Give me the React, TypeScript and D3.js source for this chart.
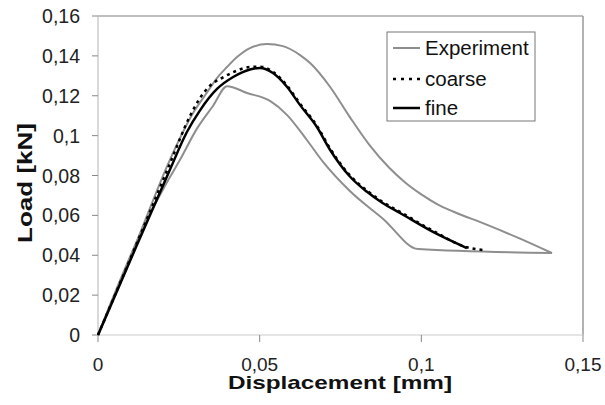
import React from "react";
import * as d3 from "d3";

const xTicks = [0, 0.05, 0.1, 0.15];
const xTickLabels = ["0", "0,05", "0,1", "0,15"];
const yTicks = [0, 0.02, 0.04, 0.06, 0.08, 0.1, 0.12, 0.14, 0.16];
const yTickLabels = ["0", "0,02", "0,04", "0,06", "0,08", "0,1", "0,12", "0,14", "0,16"];

const expUpperX = [0, 0.012, 0.022, 0.0294, 0.0336, 0.0368, 0.0399, 0.043, 0.047, 0.0523, 0.0572, 0.0625, 0.0656, 0.0718, 0.0779, 0.0841, 0.09, 0.095, 0.1, 0.105, 0.11, 0.12, 0.13, 0.1404];
const expUpperY = [0, 0.047, 0.087, 0.1113, 0.1214, 0.1289, 0.1344, 0.1394, 0.1439, 0.1459, 0.1449, 0.1404, 0.1364, 0.1244, 0.1093, 0.095, 0.084, 0.0765, 0.0705, 0.0655, 0.0618, 0.0555, 0.0487, 0.0411];

const expLowerX = [0, 0.0152, 0.0201, 0.0254, 0.0306, 0.0356, 0.0399, 0.0461, 0.0532, 0.0585, 0.0646, 0.0696, 0.0779, 0.0882, 0.099, 0.1404];
const expLowerY = [0, 0.058, 0.073, 0.088, 0.1035, 0.115, 0.1248, 0.1214, 0.1174, 0.1103, 0.0978, 0.0868, 0.0722, 0.0582, 0.0431, 0.0411];

const fineX = [0, 0.012, 0.022, 0.0275, 0.0316, 0.0368, 0.0418, 0.047, 0.0501, 0.0541, 0.0585, 0.0625, 0.0677, 0.0718, 0.0779, 0.0832, 0.088, 0.0934, 0.1036, 0.1141];
const fineY = [0, 0.045, 0.082, 0.1018, 0.1128, 0.1234, 0.1294, 0.1332, 0.1339, 0.1314, 0.1244, 0.1153, 0.1043, 0.0928, 0.0795, 0.0718, 0.0662, 0.0612, 0.0517, 0.0436];

const coarseX = [0, 0.012, 0.022, 0.0285, 0.0316, 0.0346, 0.0384, 0.0418, 0.047, 0.0501, 0.0541, 0.0585, 0.0625, 0.0677, 0.0718, 0.0779, 0.0832, 0.088, 0.0934, 0.1036, 0.1141, 0.1194];
const coarseY = [0, 0.046, 0.085, 0.11, 0.119, 0.125, 0.129, 0.1318, 0.1344, 0.1346, 0.132, 0.125, 0.116, 0.105, 0.0935, 0.0801, 0.0724, 0.0668, 0.0618, 0.0523, 0.044, 0.0426];

const legendLabels = ["Experiment", "coarse", "fine"];

const FONT = "'Liberation Sans', Arial, Helvetica, sans-serif";

export default function App() {
  const x = d3.scaleLinear().domain([0, 0.15]).range([98, 583]);
  const y = d3.scaleLinear().domain([0, 0.16]).range([335, 16]);
  const line = d3
    .line<[number, number]>()
    .x((d) => x(d[0]))
    .y((d) => y(d[1]))
    .curve(d3.curveMonotoneX);
  const zip = (a: number[], b: number[]) => a.map((v, i) => [v, b[i]] as [number, number]);

  const gray = "#8e8e8e";

  return (
    <svg
      width={605}
      height={405}
      style={{ position: "absolute", left: 0, top: 0, background: "#fff" }}
      fontFamily={FONT}
    >
      <rect x={0} y={0} width={605} height={405} fill="#fff" />
      {/* plot frame */}
      <line x1={98} x2={583} y1={16} y2={16} stroke="#aaa" strokeWidth={1.5} />
      <line x1={583} x2={583} y1={16} y2={335} stroke="#999" strokeWidth={1.5} />
      <line x1={98} x2={583} y1={335} y2={335} stroke="#ddd" strokeWidth={1.5} />
      <line x1={98} x2={98} y1={16} y2={335} stroke="#ccc" strokeWidth={1.5} />
      {/* y ticks */}
      {yTicks.map((t, i) => (
        <g key={"y" + i}>
          <line x1={92} x2={98} y1={y(t)} y2={y(t)} stroke="#888" strokeWidth={1} />
          <text x={80} y={y(t)} dy="0.36em" textAnchor="end" fontSize={19.5} fill="#222">
            {yTickLabels[i]}
          </text>
        </g>
      ))}
      {/* x ticks */}
      {xTicks.map((t, i) => (
        <g key={"x" + i}>
          <line x1={x(t)} x2={x(t)} y1={335} y2={342} stroke="#888" strokeWidth={1} />
          <text x={x(t)} y={371} textAnchor="middle" fontSize={19} fill="#222">
            {xTickLabels[i]}
          </text>
        </g>
      ))}
      {/* titles */}
      <text
        x={340}
        y={389}
        textAnchor="middle"
        fontSize={19}
        fontWeight="bold"
        fill="#111"
        textLength={224}
        lengthAdjust="spacingAndGlyphs"
      >
        Displacement [mm]
      </text>
      <text
        transform="translate(32,183) rotate(-90)"
        textAnchor="middle"
        fontSize={20}
        fontWeight="bold"
        fill="#111"
        textLength={120}
        lengthAdjust="spacingAndGlyphs"
      >
        Load [kN]
      </text>
      {/* series */}
      <path d={line(zip(expUpperX, expUpperY)) || ""} fill="none" stroke={gray} strokeWidth={2} />
      <path d={line(zip(expLowerX, expLowerY)) || ""} fill="none" stroke={gray} strokeWidth={2} />
      <path
        d={line(zip(coarseX, coarseY)) || ""}
        fill="none"
        stroke="#000"
        strokeWidth={2.5}
        strokeDasharray="3,4"
      />
      <path d={line(zip(fineX, fineY)) || ""} fill="none" stroke="#000" strokeWidth={2.5} />
      {/* legend */}
      <rect x={387} y={32} width={148} height={89} fill="#fff" stroke="#777" strokeWidth={1} />
      {legendLabels.map((lab, i) => {
        const cy = [48, 79, 108][i];
        return (
          <g key={lab}>
            <line
              x1={393}
              x2={420}
              y1={cy}
              y2={cy}
              stroke={i === 0 ? gray : "#000"}
              strokeWidth={i === 0 ? 2 : 2.5}
              strokeDasharray={i === 1 ? "3,5" : undefined}
            />
            <text x={425} y={cy + 7} fontSize={20.5} fill="#111">
              {lab}
            </text>
          </g>
        );
      })}
    </svg>
  );
}
